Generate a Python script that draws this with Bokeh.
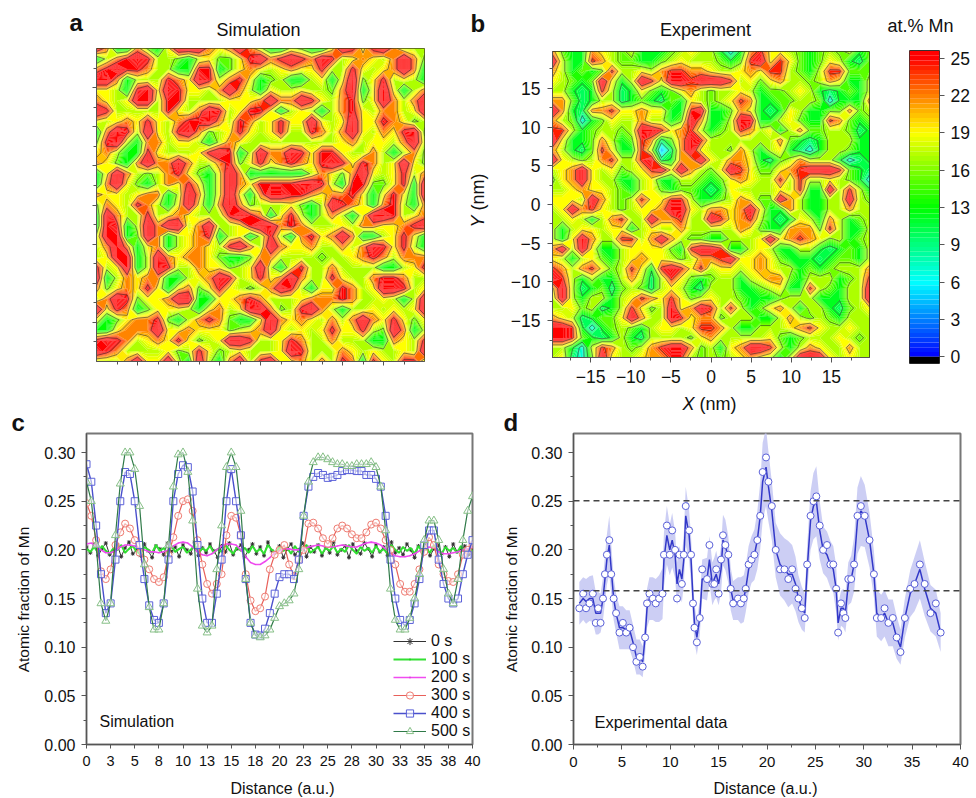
import numpy as np
from bokeh.embed import file_html
from bokeh.layouts import column, row
from bokeh.models import FixedTicker, Label, Legend, LegendItem, Range1d, Span
from bokeh.plotting import figure
from bokeh.resources import INLINE

FONT = "Liberation Sans"

# at.% Mn for each digit used in the two maps below
sim_digits = [4, 7, 10, 11, 15, 17, 19, 22, 26, 30]
exp_digits = [4, 7, 10, 12, 15, 17, 19, 21.5, 24.5, 28]

sim_map = [
    "97337436999 76797533543 36986897555",
    "35789855435 64468978987 98567657974",
    "78988755338 83467656766 85586567973",
    "99735558769 85786345335 63694685653",
    "66538969866 57975365565 54793696357",
    "76569958855 55666797798 65784697579",
    "98555558657 98568863565 35786577569",
    "65676865788 97587568669 65696687645",
    "37985965897 45686568558 75796576894",
    "48953775665 35765555555 55675665795",
    "67533865556 89835977986 88655753574",
    "76437977975 57846867876 89868756964",
    "36975457864 36973333335 76479656857",
    "37964357686 36976888899 85388446839",
    "76656773597 36963799887 67786368639",
    "47658753696 37974555643 59876378537",
    "39755856765 55898736853 57536998567",
    "39835979957 95568997875 55657766789",
    "59934973567 83563585378 67973356863",
    "57973673567 65897597667 55757986853",
    "56993597677 64334775555 45567875777",
    "85693598557 66456953685 57555533568",
    "93576773356 79856867975 58655788755",
    "74676863674 68654579853 66875699856",
    "57984667993 36678755567 77875565359",
    "96873466653 67569974589 75355656569",
    "63467784357 87433697676 57579768646",
    "33677796676 66456796565 68668549735",
    "89875676864 56998556875 57555337658",
    "98755556458 64565556985 55765655659",
    "55579669539 53795896675 75873865885",
]

exp_map = [
    "74337654533 34565531378 66543454534",
    "95338754433 45655543489 68643465324",
    "75343485565 78877655676 88543588444",
    "65434963598 69989998564 67554576335",
    "55323852364 34675455653 44565323435",
    "77423552343 24365456873 34455413337",
    "97327786676 63389334763 23653344745",
    "75413465575 53497335993 35643387434",
    "88534554599 86785345875 63574455423",
    "96334753487 24798555555 57432355533",
    "75324863385 02796554753 56321355433",
    "96545785589 23779657763 24575553123",
    "56796564568 96975469864 46789998432",
    "46796553356 33554346765 58585565431",
    "55676654356 43443236555 56583395853",
    "66659754586 68853345764 49753355954",
    "56978654566 79965776796 33753355755",
    "55653578559 77855986785 32365375345",
    "53566566356 55755555764 33777485335",
    "53697558857 97544335556 96787645345",
    "79596335666 64389983356 53355323435",
    "65356435676 65457789667 64333234435",
    "87578645863 89868566567 65534345557",
    "98535335752 58643455356 77435553458",
    "69523424542 56532555334 56338543559",
    "59535535687 68645655433 34555333559",
    "55645235864 59679858534 67535532456",
    "76523446975 59867745553 35754543555",
    "99831345435 66568875335 55678655655",
    "99843235325 55546755555 64345556545",
    "55315875457 89974536799 85357655755",
    "56214965567 78854545676 53599965655",
]

scale_ticks = [0, 3.125, 6.25, 9.375, 12.5, 15.625, 18.75, 21.875, 25]
scale_labels = ["0", "3", "6", "9", "13", "16", "19", "22", "25"]

dist_labels = ["0", "3", "5", "8", "10", "13", "15", "18", "20", "23", "25", "28", "30", "33", "35", "38", "40"]

# panel c, one value every 0.5 a.u.
s200 = [.206, .207, .204, .200, .197, .197, .199, .203, .205, .205,
        .204, .202, .200, .198, .198, .197, .198, .200, .204, .207,
        .208, .207, .203, .198, .195, .194, .196, .200, .204, .206,
        .206, .205, .200, .193, .187, .185, .185, .188, .192, .197,
        .199, .201, .201, .200, .200, .201, .203, .204, .205, .204,
        .203, .203, .204, .205, .204, .203, .203, .205, .207, .208,
        .207, .205, .201, .197, .194, .193, .193, .194, .196, .199,
        .201, .203, .202, .198, .196, .196, .197, .198, .200, .201,
        .203]
s300 = [.248, .235, .210, .178, .170, .180, .205, .218, .227, .222,
        .210, .197, .190, .180, .170, .167, .172, .195, .213, .235,
        .250, .252, .240, .210, .185, .165, .155, .165, .175, .215,
        .235, .233, .215, .175, .148, .137, .140, .152, .180, .195,
        .200, .205, .185, .173, .190, .200, .227, .228, .222, .212,
        .206, .212, .222, .225, .222, .216, .212, .212, .218, .226,
        .228, .222, .210, .200, .185, .165, .157, .157, .165, .180,
        .198, .213, .205, .185, .175, .168, .167, .175, .195, .200,
        .205]
s400 = [.288, .270, .225, .175, .135, .145, .190, .250, .280, .278,
        .250, .205, .170, .143, .128, .125, .145, .190, .250, .278,
        .287, .285, .260, .205, .150, .125, .125, .155, .190, .250,
        .283, .250, .215, .170, .125, .113, .112, .119, .135, .155,
        .172, .175, .175, .170, .190, .235, .265, .275, .279, .277,
        .274, .275, .277, .281, .282, .282, .281, .281, .277, .277,
        .273, .265, .235, .190, .150, .128, .122, .128, .145, .170,
        .205, .220, .220, .190, .165, .150, .145, .150, .175, .195,
        .210]
s500 = [.270, .250, .205, .145, .127, .145, .215, .268, .300, .300,
        .283, .245, .185, .141, .118, .118, .145, .205, .265, .298,
        .300, .280, .230, .160, .122, .115, .122, .180, .225, .285,
        .300, .285, .240, .170, .125, .112, .110, .112, .118, .130,
        .142, .145, .148, .155, .180, .235, .270, .290, .295, .295,
        .293, .290, .288, .288, .286, .286, .288, .288, .288, .290,
        .285, .265, .220, .160, .128, .118, .118, .130, .150, .175,
        .210, .230, .230, .210, .180, .155, .145, .170, .210, .240,
        .255]

# the two flat curves, one value every 0.4 a.u.
s0 = [.203, .197, .206, .194, .201, .207, .195, .199, .205, .193,
      .202, .208, .196, .200, .194, .206, .199, .192, .204, .201,
      .195, .207, .198, .203, .193, .205, .200, .196, .208, .194,
      .202, .197, .206, .199, .192, .204, .198, .207, .195, .201,
      .205, .193, .200, .206, .196, .203, .194, .208, .199, .197,
      .204, .192, .201, .206, .195, .200, .207, .193, .203, .198,
      .205, .194, .202, .197, .208, .195, .200, .204, .192, .206,
      .199, .196, .207, .201, .193, .205, .198, .203, .194, .208,
      .197, .202, .195, .206, .200, .192, .204, .199, .207, .194,
      .201, .205, .196, .203, .193, .206, .198, .200, .204, .195,
      .202]
s100 = [.201, .198, .203, .197, .204, .199, .196, .202, .200, .205,
        .197, .201, .204, .198, .196, .203, .200, .197, .205, .199,
        .202, .196, .204, .198, .201, .203, .197, .200, .205, .196,
        .202, .199, .204, .197, .201, .198, .205, .200, .196, .203,
        .199, .202, .197, .204, .198, .201, .196, .205, .200, .197,
        .203, .199, .202, .196, .204, .198, .201, .205, .197, .200,
        .203, .196, .202, .199, .204, .197, .201, .198, .205, .200,
        .196, .203, .199, .202, .197, .204, .198, .201, .196, .205,
        .200, .197, .203, .199, .202, .196, .204, .198, .201, .197,
        .205, .200, .196, .203, .199, .202, .197, .204, .198, .201,
        .199]

# panel d
exp_x = [.6, 1, 1.3, 1.65, 2, 2.3, 2.55, 2.8, 3.05, 3.25,
         3.45, 3.7, 3.9, 4.15, 4.4, 4.75, 5.1, 5.45, 5.8, 6.15,
         6.5, 6.85, 7.15, 7.4, 7.6, 7.85, 8.2, 8.5, 8.85, 9.2,
         9.35, 9.65, 9.95, 10.2, 10.5, 10.7, 10.95, 11.2, 11.4, 11.6,
         11.95, 12.15, 12.35, 12.5, 12.75, 13.05, 13.3, 13.8, 14.05, 14.35,
         14.55, 14.75, 15, 15.25, 15.45, 15.7, 16, 16.25, 16.5, 17,
         17.3, 17.6, 17.8, 18.1, 18.4, 18.7, 19, 19.3, 19.55, 19.9,
         20.15, 20.5, 20.9, 21.35, 21.8, 22.2, 22.6, 22.95, 23.25, 23.6,
         23.9, 24.15, 24.5, 24.8, 25.1, 25.45, 25.8, 26.2, 26.55, 26.85,
         27.15, 27.35, 27.65, 27.9, 28.1, 28.4, 28.7, 29, 29.35, 29.7,
         30.1, 30.6, 31.05, 31.35, 31.8, 32.15, 32.55, 33, 33.4, 33.8,
         34.25, 34.8, 35.25, 35.8, 36.3, 36.9, 37.45, 37.95]
exp_y = [.14, .155, .14, .145, .155, .125, .14, .125, .15, .175,
         .195, .21, .175, .15, .135, .115, .125, .115, .12, .10,
         .085, .09, .08, .11, .145, .155, .15, .145, .15, .155,
         .195, .225, .195, .22, .20, .15, .195, .165, .195, .245,
         .22, .195, .145, .12, .105, .13, .18, .17, .205, .165,
         .165, .18, .155, .19, .215, .205, .195, .16, .145, .15,
         .145, .15, .16, .185, .19, .195, .21, .235, .28, .295,
         .27, .245, .20, .18, .18, .17, .18, .16, .15, .14,
         .13, .185, .235, .25, .255, .225, .20, .205, .185, .185,
         .16, .115, .145, .135, .13, .17, .17, .185, .235, .245,
         .235, .21, .175, .13, .13, .14, .125, .13, .11, .095,
         .13, .16, .165, .185, .165, .135, .145, .115]
exp_mean = [.145, .15, .147, .15, .15, .135, .135, .135, .15, .17,
            .19, .205, .18, .15, .135, .12, .12, .118, .118, .105,
            .09, .09, .085, .11, .14, .15, .15, .148, .15, .155,
            .19, .215, .20, .21, .195, .165, .18, .17, .19, .235,
            .215, .19, .15, .125, .11, .13, .17, .17, .19, .165,
            .17, .175, .165, .18, .21, .205, .19, .16, .148, .15,
            .148, .15, .16, .18, .19, .195, .21, .235, .27, .285,
            .265, .24, .20, .185, .18, .175, .175, .165, .15, .14,
            .135, .18, .23, .245, .25, .22, .20, .195, .185, .18,
            .16, .125, .14, .14, .135, .165, .17, .185, .23, .24,
            .235, .21, .175, .135, .13, .135, .125, .125, .11, .10,
            .13, .155, .165, .18, .16, .14, .135, .115]
exp_err = [.022, .022, .023, .023, .024, .022, .022, .020, .022, .024,
           .026, .030, .026, .022, .020, .022, .022, .020, .020, .018,
           .018, .018, .016, .018, .020, .022, .022, .022, .024, .026,
           .028, .030, .026, .028, .024, .022, .024, .024, .026, .030,
           .026, .024, .022, .020, .018, .018, .020, .022, .024, .022,
           .022, .024, .022, .024, .026, .026, .024, .022, .020, .022,
           .024, .024, .024, .024, .024, .026, .030, .034, .040, .040,
           .036, .030, .028, .032, .032, .034, .030, .028, .024, .022,
           .020, .024, .030, .034, .036, .030, .024, .024, .024, .024,
           .024, .018, .018, .020, .020, .022, .024, .028, .034, .036,
           .032, .028, .024, .024, .024, .024, .024, .024, .022, .018,
           .020, .024, .028, .030, .028, .024, .024, .020]
exp_lines = [.2505, .158]


def rainbow(v):
    # blue, cyan, green, yellow, red
    r = np.interp(v, [12.5, 18.75], [0, 255])
    g = np.interp(v, [0, 6.25, 18.75, 25], [0, 255, 255, 0])
    b = np.interp(v, [0, 6.25, 12.5], [255, 255, 0])
    return "#%02x%02x%02x" % (int(r), int(g), int(b))


def read_map(rows, table):
    grid = [[table[int(c)] for c in r.replace(" ", "")] for r in rows]
    return np.array(grid[::-1], dtype=float)


def note(p, frame, text, x, y, size, align="left", angle=0, style="normal", color="#111111"):
    # x, y are page pixels of the text's baseline, frame is the page position of the frame's lower left corner
    # labels come out centred on their anchor, so move the anchor off the baseline
    lift = 0.36 * float(size[:-2])
    if angle:
        x = x - lift
    else:
        y = y - lift
    p.add_layout(Label(x=x - frame[0], y=frame[1] - y, x_units="screen", y_units="screen", text=text,
                       text_font=FONT, text_font_size=size, text_align=align, text_baseline="middle",
                       angle=angle, text_font_style=style, text_color=color))


def strip(w, h):
    # empty figure that only carries text, labels are cut at a frame's edge
    s = figure(width=w, height=h, frame_width=w, frame_height=h, output_backend="svg", toolbar_location=None,
               x_axis_type=None, y_axis_type=None, x_range=Range1d(0, w), y_range=Range1d(0, h), frame_align=False,
               min_border_left=0, min_border_right=0, min_border_top=0, min_border_bottom=0)
    s.outline_line_color = None
    s.grid.visible = False
    return s


def style_axes(p, color="#555555"):
    for ax in p.xaxis + p.yaxis:
        ax.axis_line_color = color
        ax.major_tick_line_color = color
        ax.minor_tick_line_color = color
        ax.major_label_text_font = FONT
        ax.major_label_text_color = "#111111"
        ax.major_tick_in = 0
        ax.minor_tick_in = 0
    p.grid.visible = False


def draw_map(p, rows, table, line_levels, floor=0):
    z = read_map(rows, table)
    x = np.linspace(p.x_range.start, p.x_range.end, z.shape[1])
    y = np.linspace(p.y_range.start, p.y_range.end, z.shape[0])
    levels = np.arange(0, 30.01, 0.5)
    colors = [rainbow(max(v + 0.25, floor)) for v in levels[:-1]]
    p.contour(x, y, z, levels, fill_color=colors, line_color=None)
    p.contour(x, y, z, line_levels, line_color="#222222", line_width=0.7, line_alpha=0.75)


map_ticks = [-15, -10, -5, 0, 5, 10, 15]
map_minor = [-17.5, -12.5, -7.5, -2.5, 2.5, 7.5, 12.5, 17.5]

# titles across the top
top = strip(976, 42)
ft = (0, 42)
note(top, ft, "a", 69, 31, "24px", style="bold")
note(top, ft, "Simulation", 258, 36, "18px", align="center")
note(top, ft, "b", 470, 32, "24px", style="bold")
note(top, ft, "Experiment", 705, 36, "18px", align="center")
note(top, ft, "at.% Mn", 887, 32, "18px")

# panel a
pa = figure(width=466, height=350, frame_width=328, frame_height=313, output_backend="svg", toolbar_location=None,
            x_range=Range1d(-20, 20), y_range=Range1d(-20, 20), frame_align=False,
            min_border_left=96, min_border_right=42, min_border_top=6, min_border_bottom=31)
draw_map(pa, sim_map, sim_digits, [15.8, 20.3, 24.5], floor=12.5)
style_axes(pa)
for ax in pa.xaxis + pa.yaxis:
    ax.ticker = FixedTicker(ticks=map_ticks, minor_ticks=map_minor)
    ax.major_label_overrides = {t: "" for t in map_ticks}
    ax.major_tick_out = 4
    ax.minor_tick_out = 3
pa.outline_line_color = "#4a4a20"

# rotated label of panel b
ly = strip(24, 350)
fy = (466, 392)
note(ly, fy, "Y", 484, 227, "18px", angle=np.pi / 2, style="italic")
note(ly, fy, "(nm)", 484, 210, "18px", angle=np.pi / 2)

# panel b
pb = figure(width=390, height=350, frame_width=317, frame_height=306, output_backend="svg", toolbar_location=None,
            x_range=Range1d(-19.75, 19.75), y_range=Range1d(-19.75, 19.75), frame_align=False,
            min_border_left=62, min_border_right=11, min_border_top=9, min_border_bottom=35)
draw_map(pb, exp_map, exp_digits, [8.5, 11.5, 15.8, 20, 23.6])
style_axes(pb)
for ax in pb.xaxis + pb.yaxis:
    ax.ticker = FixedTicker(ticks=map_ticks, minor_ticks=map_minor)
    ax.major_label_text_font_size = "17.5px"
    ax.major_label_overrides = {-15: "\u221215", -10: "\u221210", -5: "\u22125"}
    ax.major_tick_out = 5
    ax.minor_tick_out = 3
    ax.major_label_standoff = 7
pb.outline_line_color = "#222222"

# colour scale
pk = figure(width=96, height=350, frame_width=30, frame_height=313, output_backend="svg", toolbar_location=None,
            x_axis_type=None, y_axis_location="right", x_range=Range1d(0, 1), y_range=Range1d(-0.56, 25.64),
            frame_align=False, min_border_left=29, min_border_right=37, min_border_top=8, min_border_bottom=29)
steps = np.arange(0, 25.6, 0.4)
pk.quad(left=0, right=1, bottom=steps, top=steps + 0.4, fill_color=[rainbow(v + 0.2) for v in steps], line_color=None)
pk.quad(left=0, right=1, bottom=-0.56, top=0, fill_color="#000000", line_color=None)
style_axes(pk)
pk.yaxis.ticker = FixedTicker(ticks=scale_ticks)
pk.yaxis.major_label_overrides = dict(zip(scale_ticks, scale_labels))
pk.yaxis.major_label_text_font_size = "17.5px"
pk.yaxis.major_tick_out = 5
pk.yaxis.major_label_standoff = 6
pk.yaxis.axis_line_color = None
pk.outline_line_color = "#333333"


def line_panel(width, height, top_border, left, right, frame_width):
    p = figure(width=width, height=height, frame_width=frame_width, frame_height=311, output_backend="svg",
               toolbar_location=None, x_range=Range1d(0, 40), y_range=Range1d(0, 0.3196), frame_align=False,
               min_border_left=left, min_border_right=right, min_border_top=top_border, min_border_bottom=32)
    style_axes(p)
    p.yaxis.ticker = FixedTicker(ticks=[0, .05, .1, .15, .2, .25, .3],
                                 minor_ticks=[.025, .075, .125, .175, .225, .275])
    p.yaxis.major_label_overrides = {0: "0.00", .05: "0.05", .1: "0.10", .15: "0.15", .2: "0.20", .25: "0.25", .3: "0.30"}
    p.yaxis.major_label_text_font_size = "16px"
    p.yaxis.major_tick_out = 5
    p.yaxis.minor_tick_out = 3
    p.yaxis.major_label_standoff = 6
    p.xaxis.major_tick_out = 5
    p.xaxis.minor_tick_out = 3
    p.xaxis.major_label_standoff = 7
    p.outline_line_color = "#777777"
    p.outline_line_width = 2
    return p


# panel c, the letter and the rotated label sit in their own tall strip
lc = strip(32, 384)
fl = (0, 776)
note(lc, fl, "c", 11, 431, "24px", style="bold")
note(lc, fl, "Atomic fraction of Mn", 29, 599, "15.5px", align="center", angle=np.pi / 2)

pc = line_panel(468, 384, 41, 54, 28, 386)
pc.xaxis.ticker = FixedTicker(ticks=[2.5 * i for i in range(17)])
pc.xaxis.major_label_overrides = {2.5 * i: t for i, t in enumerate(dist_labels)}
pc.xaxis.major_label_text_font_size = "14.5px"
pc.xaxis.major_tick_out = 4
step_half = np.arange(81) * 0.5
step_flat = np.arange(101) * 0.4
items = []
curves = [
    ("0 s", step_flat, s0, "#333333", "asterisk", 4, "#333333", 1.0),
    ("100 s", step_flat, s100, "#33e033", "dot", 4, "#22cc22", 2.0),
    ("200 s", step_half, s200, "#f04cf0", "dot", 4, "#e040e0", 1.6),
    ("300 s", step_half, s300, "#e8605a", "circle", 7, "#ee7a70", 1.2),
    ("400 s", step_half, s400, "#4a50cc", "square", 7, "#5a60d8", 1.4),
    ("500 s", step_half, s500, "#2f7a48", "triangle", 8, "#86bf86", 1.2),
]
for name, xs, ys, col, mark, size, mcol, lw in curves:
    r1 = pc.line(xs, ys, line_color=col, line_width=lw)
    r2 = pc.scatter(xs, ys, marker=mark, size=size, line_color=mcol, fill_color="white", fill_alpha=0.55, line_width=1)
    items.append(LegendItem(label=name, renderers=[r1, r2]))
legend = Legend(items=items, location=(307, 4), border_line_color=None, background_fill_alpha=0, padding=0, margin=0,
                spacing=0, glyph_width=33, glyph_height=18, label_height=18, label_standoff=5,
                label_text_font=FONT, label_text_font_size="16px", label_text_color="#111111")
pc.add_layout(legend)
fc = (86, 744)
note(pc, fc, "Simulation", 99, 727, "16px")

# panel d
ld = strip(25, 384)
fl2 = (500, 776)
note(ld, fl2, "d", 503, 431, "24px", style="bold")
note(ld, fl2, "Atomic fraction of Mn", 517, 599, "15.5px", align="center", angle=np.pi / 2)

# x title of panel b, above panel d
xt = strip(451, 39)
fx = (525, 431)
note(xt, fx, "X", 682, 410, "18px", style="italic")
note(xt, fx, "(nm)", 699, 410, "18px")

pd = line_panel(451, 345, 2, 48, 16, 387)
pd.xaxis.ticker = FixedTicker(ticks=[5 * i for i in range(9)], minor_ticks=[2.5 + 5 * i for i in range(8)])
pd.xaxis.major_label_text_font_size = "15px"
mean = np.array(exp_mean)
err = np.array(exp_err)
pd.varea(exp_x, mean - err, mean + err, fill_color="#c6c9f3", fill_alpha=0.9)
for level in exp_lines:
    pd.add_layout(Span(location=level, dimension="width", line_color="#444444", line_width=1.4, line_dash="6 4"))
pd.line(exp_x, exp_mean, line_color="#3238c8", line_width=1.5)
pd.scatter(exp_x, exp_y, marker="circle", size=7, line_color="#5a60d8", fill_color="white", line_width=1)
fd = (573, 744)
note(pd, fd, "Experimental data", 594, 727, "16.5px")

# axis titles under the lower row
low = strip(976, 22)
fb2 = (0, 798)
note(low, fb2, "Distance (a.u.)", 282, 794, "16px", align="center")
note(low, fb2, "Distance (a.u.)", 765, 794, "16px", align="center")

p = column(top, row(pa, ly, pb, pk), row(lc, pc, ld, column(xt, pd)), low)

open("out.html", "w").write(file_html(p, INLINE))
